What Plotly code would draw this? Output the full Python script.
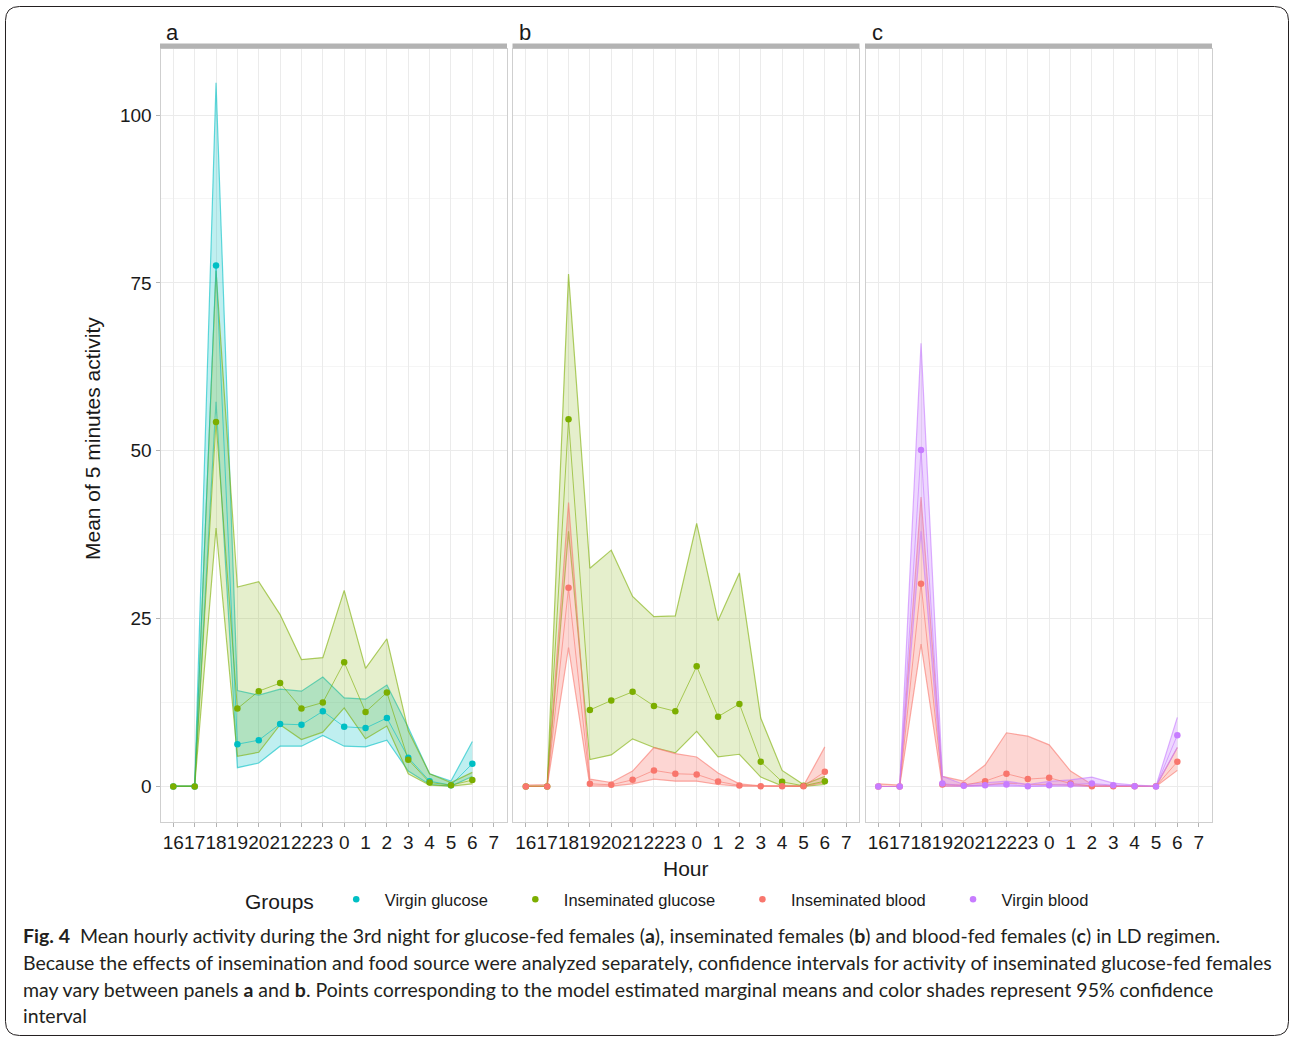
import plotly.graph_objects as go

W, H = 1290, 1037

# ---------------- data ----------------
hours = ["16", "17", "18", "19", "20", "21", "22", "23", "0", "1", "2", "3", "4", "5", "6", "7"]
data_hours = hours[:15]

# panel a
a_vg_mean = [0, 0, 77.6, 6.3, 6.9, 9.3, 9.2, 11.2, 8.9, 8.7, 10.2, 4.3, 0.8, 0.2, 3.4]
a_vg_low = [0, 0, 57.3, 2.8, 3.5, 6.0, 6.0, 7.6, 6.0, 5.9, 6.9, 2.3, 0.3, 0.05, 1.5]
a_vg_up = [0.1, 0.1, 104.8, 14.3, 13.6, 14.5, 14.2, 16.3, 13.2, 13.0, 15.1, 8.8, 1.9, 0.8, 6.7]

a_ig_mean = [0, 0, 54.3, 11.6, 14.2, 15.4, 11.6, 12.5, 18.5, 11.1, 14.0, 4.0, 0.6, 0.2, 0.95]
a_ig_low = [0, 0, 38.5, 4.5, 5.1, 9.2, 7.0, 8.1, 11.7, 7.1, 9.0, 1.9, 0.2, 0.05, 0.4]
a_ig_up = [0.1, 0.1, 76.8, 29.7, 30.5, 25.6, 18.9, 19.2, 29.2, 17.6, 22.0, 8.3, 1.9, 0.6, 2.1]

# panel b
b_ig_mean = [0, 0, 54.7, 11.4, 12.8, 14.1, 12.0, 11.2, 17.9, 10.4, 12.3, 3.7, 0.7, 0.1, 0.8]
b_ig_low = [0, 0, 38.0, 4.0, 4.7, 7.1, 5.8, 5.0, 8.2, 4.4, 4.8, 1.4, 0.1, 0.03, 0.3]
b_ig_up = [0.1, 0.1, 76.3, 32.5, 35.2, 28.3, 25.3, 25.4, 39.2, 24.7, 31.8, 10.2, 2.4, 0.3, 1.5]

b_ib_mean = [0, 0, 29.6, 0.4, 0.25, 1.0, 2.4, 1.9, 1.8, 0.75, 0.15, 0.05, 0.05, 0.05, 2.2]
b_ib_low = [0, 0, 20.7, 0.1, 0.05, 0.4, 1.1, 0.8, 0.8, 0.3, 0.05, 0.01, 0.01, 0.01, 0.6]
b_ib_up = [0.2, 0.3, 42.3, 1.1, 0.6, 2.3, 5.8, 4.9, 4.4, 2.0, 0.4, 0.1, 0.1, 0.1, 5.9]

# panel c
c_ib_mean = [0, 0, 30.2, 0.3, 0.2, 0.8, 1.9, 1.1, 1.3, 0.45, 0.05, 0.02, 0.02, 0.02, 3.7]
c_ib_low = [0, 0, 21.2, 0.05, 0.05, 0.2, 0.5, 0.3, 0.3, 0.1, 0.01, 0, 0, 0, 2.4]
c_ib_up = [0.4, 0.2, 43.1, 1.5, 0.8, 3.2, 8.0, 7.5, 6.2, 2.3, 0.3, 0.1, 0.1, 0.05, 5.8]

c_vb_mean = [0, 0, 50.1, 0.45, 0.1, 0.2, 0.3, 0.05, 0.2, 0.3, 0.45, 0.2, 0.05, 0, 7.65]
c_vb_low = [0, 0, 38.0, 0.1, 0.02, 0.05, 0.1, 0.01, 0.05, 0.1, 0.1, 0.05, 0.01, 0, 5.8]
c_vb_up = [0, 0, 66.0, 1.5, 0.3, 0.6, 0.8, 0.3, 0.75, 1.0, 1.4, 0.5, 0.2, 0.05, 10.3]

y_ticks = [0, 25, 50, 75, 100]
panel_labels = ["a", "b", "c"]
group_names = ["Virgin glucose", "Inseminated glucose", "Inseminated blood", "Virgin blood"]
group_colors = {
    "Virgin glucose": (0, 191, 196),
    "Inseminated glucose": (124, 174, 0),
    "Inseminated blood": (248, 118, 109),
    "Virgin blood": (199, 124, 255),
}
fill_alpha = {
    "Virgin glucose": 0.25,
    "Inseminated glucose": 0.2,
    "Inseminated blood": 0.3,
    "Virgin blood": 0.3,
}

panels = [
    [("Virgin glucose", a_vg_mean, a_vg_low, a_vg_up),
     ("Inseminated glucose", a_ig_mean, a_ig_low, a_ig_up)],
    [("Inseminated glucose", b_ig_mean, b_ig_low, b_ig_up),
     ("Inseminated blood", b_ib_mean, b_ib_low, b_ib_up)],
    [("Inseminated blood", c_ib_mean, c_ib_low, c_ib_up),
     ("Virgin blood", c_vb_mean, c_vb_low, c_vb_up)],
]

# ---------------- layout geometry (pixels) ----------------
def px(x):
    return x / W


def py(y):
    return 1 - y / H


panel_px = [(160.5, 506.5), (513.0, 859.0), (865.5, 1211.5)]
top_px, bot_px = 48.5, 821.5

fig = go.Figure()

def rgba(c, a):
    return "rgba(%d,%d,%d,%.3f)" % (c[0], c[1], c[2], a)

NBSP = "\u00a0"
shown = set()
for i, groups in enumerate(panels):
    xa = "x" if i == 0 else "x%d" % (i + 1)
    ya = "y" if i == 0 else "y%d" % (i + 1)
    # ribbons
    for name, mean, low, up in groups:
        c = group_colors[name]
        fig.add_trace(go.Scatter(x=data_hours, y=low, mode="lines", xaxis=xa, yaxis=ya,
                                 line=dict(color=rgba(c, 0.6), width=1.2),
                                 showlegend=False, hoverinfo="skip"))
        fig.add_trace(go.Scatter(x=data_hours, y=up, mode="lines", xaxis=xa, yaxis=ya,
                                 fill="tonexty", fillcolor=rgba(c, fill_alpha[name]),
                                 line=dict(color=rgba(c, 0.6), width=1.2),
                                 showlegend=False, hoverinfo="skip"))
    # lines
    for name, mean, low, up in groups:
        c = group_colors[name]
        fig.add_trace(go.Scatter(x=data_hours, y=mean, mode="lines", xaxis=xa, yaxis=ya,
                                 line=dict(color=rgba(c, 0.6), width=1.0),
                                 showlegend=False, hoverinfo="skip"))
    # points (with legend entries)
    for name, mean, low, up in groups:
        c = group_colors[name]
        sl = name not in shown
        shown.add(name)
        fig.add_trace(go.Scatter(x=data_hours, y=mean, mode="markers", xaxis=xa, yaxis=ya,
                                 marker=dict(color=rgba(c, 1), size=6.5),
                                 name=name + NBSP * 3, legendgroup=name, showlegend=sl,
                                 legendrank=group_names.index(name) + 1,
                                 hoverinfo="skip"))

# y range from pixel positions: 0 at 786.5, 100 at 115
ppu = (786.5 - 115.0) / 100.0
y_lo = -(bot_px - 786.5) / ppu
y_hi = (786.5 - top_px) / ppu

layout = dict(
    width=W, height=H,
    margin=dict(l=0, r=0, t=0, b=0, autoexpand=False),
    paper_bgcolor="white", plot_bgcolor="white",
    font=dict(family="Liberation Sans, Arial, sans-serif", color="#1a1a1a"),
    showlegend=True,
    legend=dict(
        orientation="h", x=px(243), y=py(901), xanchor="left", yanchor="middle",
        title=dict(text="Groups" + NBSP, font=dict(size=21, color="#1a1a1a"), side="left"),
        font=dict(size=16.5, color="#1a1a1a"),
        itemwidth=47, tracegroupgap=0, bgcolor="rgba(0,0,0,0)",
    ),
)

for i, (x0, x1) in enumerate(panel_px):
    sx = "" if i == 0 else str(i + 1)
    layout["xaxis" + sx] = dict(
        domain=[px(x0), px(x1)], anchor="y" + sx,
        type="category", categoryorder="array", categoryarray=hours,
        range=[-0.6, 15.6], tickmode="array", tickvals=hours, ticktext=hours,
        tickangle=0, tickfont=dict(size=19, color="#1a1a1a"),
        showgrid=True, gridcolor="#EBEBEB", gridwidth=1,
        ticks="outside", ticklen=4, tickcolor="#B3B3B3", tickwidth=1,
        showline=True, mirror=True, linecolor="#CFCFCF", linewidth=1,
        zeroline=False, fixedrange=True,
    )
    layout["yaxis" + sx] = dict(
        domain=[py(bot_px), py(top_px)], anchor="x" + sx,
        range=[y_lo, y_hi], tickmode="array", tickvals=y_ticks,
        showticklabels=(i == 0), tickfont=dict(size=19, color="#1a1a1a"),
        showgrid=True, gridcolor="#EBEBEB", gridwidth=1,
        minor=dict(tickmode="linear", tick0=0, dtick=12.5, showgrid=True,
                   gridcolor="#F5F5F5", gridwidth=1, ticks=""),
        ticks="outside" if i == 0 else "", ticklen=4, tickcolor="#B3B3B3", tickwidth=1,
        showline=True, mirror=True, linecolor="#CFCFCF", linewidth=1,
        zeroline=False, fixedrange=True,
    )

fig.update_layout(**layout)

shapes = []
annotations = []
# strips and panel labels
for i, (x0, x1) in enumerate(panel_px):
    shapes.append(dict(type="rect", xref="paper", yref="paper",
                       x0=px(x0 - 0.5), x1=px(x1 + 0.5), y0=py(48.5), y1=py(43.5),
                       fillcolor="#B3B3B3", line=dict(width=0), layer="above"))
    annotations.append(dict(text=panel_labels[i], xref="paper", yref="paper",
                            x=px(x0 + 4), y=py(33), xanchor="left", yanchor="middle",
                            showarrow=False, font=dict(size=22, color="#1a1a1a")))

# axis titles
annotations.append(dict(text="Mean of 5 minutes activity", xref="paper", yref="paper",
                        x=px(92), y=py(439), textangle=-90, xanchor="center", yanchor="middle",
                        showarrow=False, font=dict(size=21, color="#1a1a1a")))
annotations.append(dict(text="Hour", xref="paper", yref="paper",
                        x=px(686), y=py(868), xanchor="center", yanchor="middle",
                        showarrow=False, font=dict(size=21, color="#1a1a1a")))

# caption
cap_font = dict(family="Lato, Open Sans, sans-serif", size=19.5, color="#231f20")
caption_lines = [
    "<b>Fig. 4</b>  Mean hourly activity during the 3rd night for glucose-fed females (<b>a</b>), inseminated females (<b>b</b>) and blood-fed females (<b>c</b>) in LD regimen.",
    "Because the effects of insemination and food source were analyzed separately, confidence intervals for activity of inseminated glucose-fed females",
    "may vary between panels <b>a</b> and <b>b</b>. Points corresponding to the model estimated marginal means and color shades represent 95% confidence",
    "interval",
]
cap_y = [935, 962, 989, 1015]
for t, yy in zip(caption_lines, cap_y):
    annotations.append(dict(text=t, xref="paper", yref="paper", x=px(21), y=py(yy),
                            xanchor="left", yanchor="middle", showarrow=False, font=cap_font))

# outer rounded frame
x0f, x1f, y0f, y1f, r = 5.5, 1288.5, 6.5, 1035.5, 14
def P(x, y):
    return "%.5f,%.5f" % (px(x), py(y))
path = ("M " + P(x0f + r, y0f) + " L " + P(x1f - r, y0f) +
        " Q " + P(x1f, y0f) + " " + P(x1f, y0f + r) +
        " L " + P(x1f, y1f - r) +
        " Q " + P(x1f, y1f) + " " + P(x1f - r, y1f) +
        " L " + P(x0f + r, y1f) +
        " Q " + P(x0f, y1f) + " " + P(x0f, y1f - r) +
        " L " + P(x0f, y0f + r) +
        " Q " + P(x0f, y0f) + " " + P(x0f + r, y0f) + " Z")
shapes.append(dict(type="path", xref="paper", yref="paper", path=path,
                   line=dict(color="#231f20", width=1), fillcolor="rgba(0,0,0,0)"))

fig.update_layout(shapes=shapes, annotations=annotations)
fig.write_html("out.html", config={"displayModeBar": False},
               post_script="document.body.style.margin='0px';")
